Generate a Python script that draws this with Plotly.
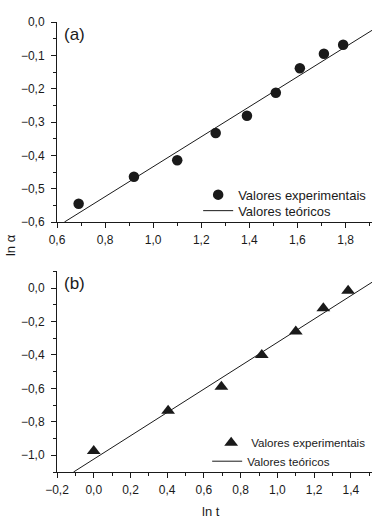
import plotly.graph_objects as go

# ---- data ----
# panel (a)
x_exp_a = [0.69, 0.92, 1.10, 1.26, 1.39, 1.51, 1.61, 1.71, 1.79]
y_exp_a = [-0.545, -0.464, -0.415, -0.333, -0.281, -0.212, -0.139, -0.095, -0.068]
x_teo_a = [0.631, 1.91]
y_teo_a = [-0.600, -0.025]
# panel (b)
x_exp_b = [0.00, 0.405, 0.695, 0.915, 1.10, 1.25, 1.385]
y_exp_b = [-0.974, -0.734, -0.59, -0.40, -0.26, -0.12, -0.016]
x_teo_b = [-0.11, 1.515]
y_teo_b = [-1.10, 0.035]

label_exp = "Valores experimentais"
label_teo = "Valores teóricos"

W, H = 382, 525
L, R, T, B = 56.7, 10.0, 22.3, 52.7
PW, PH = W - L - R, H - T - B
FONT = "Liberation Sans, Arial, sans-serif"
INK = "#1a1a1a"

def px_x(p):
    return (p - L) / PW

def px_y(p):
    return (H - B - p) / PH

fig = go.Figure()
fig.add_trace(go.Scatter(x=x_exp_a, y=y_exp_a, mode="markers", name=label_exp,
                         marker=dict(symbol="circle", size=10.5, color=INK),
                         xaxis="x", yaxis="y", legend="legend"))
fig.add_trace(go.Scatter(x=x_teo_a, y=y_teo_a, mode="lines", name=label_teo,
                         line=dict(color=INK, width=1),
                         xaxis="x", yaxis="y", legend="legend2"))
fig.add_trace(go.Scatter(x=x_exp_b, y=y_exp_b, mode="markers", name=label_exp,
                         marker=dict(symbol="triangle-up", size=12, color=INK),
                         xaxis="x2", yaxis="y2", legend="legend3"))
fig.add_trace(go.Scatter(x=x_teo_b, y=y_teo_b, mode="lines", name=label_teo,
                         line=dict(color=INK, width=1),
                         xaxis="x2", yaxis="y2", legend="legend4"))

axis_common = dict(showline=True, linecolor=INK, linewidth=1, showgrid=False,
                   zeroline=False, ticks="outside", ticklen=5, tickwidth=1,
                   tickcolor=INK, tickfont=dict(family=FONT, size=12, color=INK),
                   tickformat=".1f", automargin=False)

def leg(xpx, ypx, size):
    return dict(x=px_x(xpx), y=px_y(ypx), xanchor="left", yanchor="middle",
                bgcolor="rgba(0,0,0,0)", borderwidth=0,
                font=dict(family=FONT, size=size, color=INK), itemclick=False)

fig.update_layout(
    width=W, height=H,
    showlegend=True,
    margin=dict(l=L, r=R, t=T, b=B, autoexpand=False),
    paper_bgcolor="white", plot_bgcolor="white",
    separators=",.",
    font=dict(family=FONT, size=12, color=INK),
    xaxis=dict(domain=[0, 1], range=[0.6, 1.91], dtick=0.2, tick0=0.6, anchor="y",
               ticklabelstandoff=2,
               minor=dict(dtick=0.1, ticks="outside", ticklen=3, tickcolor=INK),
               **axis_common),
    yaxis=dict(domain=[px_y(222.3), 1], range=[-0.6, 0.0], dtick=0.1, anchor="x",
               ticklabelstandoff=4,
               minor=dict(dtick=0.05, ticks="outside", ticklen=3, tickcolor=INK),
               **axis_common),
    xaxis2=dict(domain=[0, 1], range=[-0.2, 1.515], dtick=0.2, tick0=0, anchor="y2",
                ticklabelstandoff=2,
                minor=dict(dtick=0.1, ticks="outside", ticklen=3, tickcolor=INK),
                **axis_common),
    yaxis2=dict(domain=[0, px_y(271.7)], range=[-1.1, 0.1], dtick=0.2, tick0=0,
                anchor="x2", ticklabelstandoff=4,
                minor=dict(dtick=0.1, ticks="outside", ticklen=3, tickcolor=INK),
                **axis_common),
    legend=leg(198, 195, 13),
    legend2=leg(198, 211, 13),
    legend3=leg(211, 443, 11.6),
    legend4=leg(207, 461.5, 11.6),
    annotations=[
        dict(text="(a)", x=px_x(62), y=px_y(35), xref="paper", yref="paper",
             xanchor="left", yanchor="middle", showarrow=False,
             font=dict(family=FONT, size=17, color=INK)),
        dict(text="(b)", x=px_x(62), y=px_y(284), xref="paper", yref="paper",
             xanchor="left", yanchor="middle", showarrow=False,
             font=dict(family=FONT, size=17, color=INK)),
        dict(text="ln α", x=px_x(10), y=px_y(245), xref="paper", yref="paper",
             xanchor="center", yanchor="middle", showarrow=False, textangle=-90,
             font=dict(family=FONT, size=13, color=INK)),
        dict(text="ln t", x=px_x(211), y=px_y(512), xref="paper", yref="paper",
             xanchor="center", yanchor="middle", showarrow=False,
             font=dict(family=FONT, size=13, color=INK)),
    ],
)

fig.write_html("out.html", config={"displayModeBar": False},
               post_script="document.body.style.margin='0';document.body.style.overflow='hidden';")
